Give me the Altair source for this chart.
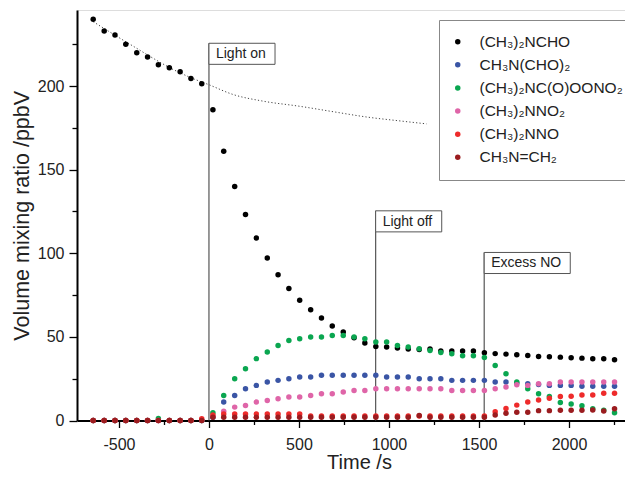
import altair as alt
import pandas as pd

# ---- data ----
series_names = ["(CH₃)₂NCHO", "CH₃N(CHO)₂", "(CH₃)₂NC(O)OONO₂",
                "(CH₃)₂NNO₂", "(CH₃)₂NNO", "CH₃N=CH₂"]
series_colors = ["#000000", "#3a55a5", "#0aa650", "#df65a8", "#ee2b2b", "#9b1c1f"]

times = [-643, -582, -522, -462, -401, -341, -281, -220, -160, -100, -40,
         22, 82, 143, 203, 263, 324, 384, 444, 504, 565, 625, 685, 746, 806,
         866, 927, 987, 1047, 1107, 1168, 1228, 1288, 1349, 1409, 1469, 1530,
         1590, 1650, 1710, 1771, 1831, 1891, 1952, 2012, 2072, 2132, 2193, 2253]

dmf = [240.0, 233.0, 230.5, 225.0, 220.0, 217.4, 212.8, 211.0, 208.6, 204.6, 201.4,
       185.8, 161.0, 140.0, 123.2, 109.2, 97.2, 87.2, 78.9, 71.9, 66.3, 61.3, 56.5,
       52.9, 49.5, 46.3, 44.3, 43.9, 43.3, 42.7, 42.5, 42.7, 41.5, 41.5, 41.5, 41.5,
       40.5, 40.0, 39.7, 39.3, 38.9, 38.3, 38.1, 37.9, 37.5, 37.3, 36.9, 36.9, 36.3]
nmf = [0, 0, 0, 0, 0, 0, 0, 0, 0, 0, 0,
       2.0, 11, 15, 19, 21, 23, 24, 25, 26, 26, 27, 27, 27, 27, 27, 27, 26, 26, 26,
       25, 25, 25, 24, 24, 24, 24, 23, 23, 22.4, 22, 21.5, 21, 21, 21, 20.5, 20.5, 20.5, 20.5]
pan = [0, 0, 0, 0, 0, 0, 1.2, 0, 0, 0, 0,
       4.6, 15, 25, 31, 37, 40.9, 44.9, 47.9, 48.9, 49.9, 49.9, 50.9, 50.9, 49.9, 48.9,
       46.9, 46.9, 44.9, 43.9, 42.9, 41.9, 40.7, 39.9, 38.7, 38.7, 37.7, 32.9, 28, 23,
       19, 16, 14.4, 10.8, 9.8, 8.8, 7.0, 6.2, 4.6]
nitramine = [0, 0, 0, 0, 0, 0, 0, 0, 0, 0, 0,
             2.5, 5.6, 8, 9, 11, 12, 13, 14, 14, 15, 16, 16, 17, 18, 18, 19, 19, 19,
             19, 19, 19, 19, 18, 18, 18, 18, 19, 20, 21.4, 21, 22, 22, 23, 23, 23, 23, 23, 23]
nitrosamine = [0, 0, 0, 0, 0, 0, 0, 0, 0, 0, 1.0,
               3.3, 3.9, 3.9, 3.9, 3.9, 3.9, 3.9, 3.9, 3.9, 2.7, 2.7, 2.7, 2.7, 2.7,
               2.7, 2.7, 2.7, 2.7, 2.7, 2.7, 2.7, 2.7, 2.7, 2.7, 2.7, 2.7,
               5.2, 7.2, 9.2, 11.1, 12.2, 13.3, 14.3, 14.5, 15.3, 15.3, 16.3, 16.3]
imine = [0, 0, 0, 0, 0, 0, 0, 0, 0, 0, 0,
         2.0, 2.0, 2.0, 2.0, 2.0, 2.0, 2.0, 2.0, 2.0, 1.9, 1.9, 1.9, 1.9, 1.9,
         1.9, 1.9, 1.9, 1.9, 1.9, 3.0, 1.9, 1.9, 1.9, 1.9, 1.9, 1.9,
         3.3, 4.3, 4.9, 4.9, 5.9, 5.9, 6.1, 6.1, 6.1, 6.3, 5.7, 7.0]

fit_t = [-643, -500, -400, -300, -200, -100, 0, 133, 300, 505, 700, 876, 1050, 1209]
fit_v = [238.5, 229, 222.5, 216, 210, 205, 200.8, 195, 191, 187.9, 184.5, 181.5, 179.3, 177.4]

ann_labels = ["Light on", "Light off", "Excess NO"]
ann_times = [0, 926, 1529]
ann_tops = [225.6, 125.4, 100.5]
ann_widths = [367, 367, 478]   # box widths in seconds
ann_height = 12.6              # box height in ppbV

x_ticks = [-500, -250, 0, 250, 500, 750, 1000, 1250, 1500, 1750, 2000, 2250]
y_ticks = [0, 25, 50, 75, 100, 125, 150, 175, 200, 225]
x_domain = [-733, 2400]
y_domain = [0, 245.5]

# ---- build tables ----
all_series = [dmf, nmf, pan, nitramine, nitrosamine, imine]
rows = []
for name, vals in zip(series_names, all_series):
    for t, v in zip(times, vals):
        rows.append({"t": t, "v": v, "s": name})
pts = pd.DataFrame(rows)
fit = pd.DataFrame({"t": fit_t, "v": fit_v})
ann = pd.DataFrame({"label": ann_labels, "t": ann_times, "top": ann_tops})
ann["right"] = [a + w for a, w in zip(ann_times, ann_widths)]
ann["bottom"] = [a - ann_height for a in ann_tops]
ann["mid"] = [a - ann_height / 2 for a in ann_tops]
ann["zero"] = 0

FONT = "Liberation Sans"
W, H = 564, 410.5
PAD_L, PAD_T = 69, 2
xs = alt.Scale(domain=x_domain, nice=False, zero=False)
ys = alt.Scale(domain=y_domain, nice=False, zero=False)
xax = alt.Axis(title="Time /s", values=x_ticks,
               tickSize={"condition": {"test": "datum.value % 500 === 0", "value": 7}, "value": 4},
               labelExpr="datum.value % 500 === 0 ? '' + datum.value : ''",
               labelOverlap=False, labelPadding=9, titlePadding=0, grid=False,
               titleFontSize=20)
yax = alt.Axis(title="Volume mixing ratio /ppbV", values=y_ticks,
               tickSize={"condition": {"test": "datum.value % 50 === 0", "value": 8}, "value": 5},
               labelExpr="datum.value % 50 === 0 ? '' + datum.value : ''",
               labelOverlap=False, labelPadding=5, titlePadding=4, grid=False,
               titleFontSize=21.5)


def X(f):
    return alt.X(f, scale=xs, axis=xax)


def Y(f):
    return alt.Y(f, scale=ys, axis=yax)


points = alt.Chart(pts).mark_circle(size=30, opacity=1).encode(
    x=X("t:Q"), y=Y("v:Q"),
    color=alt.Color("s:N", scale=alt.Scale(domain=series_names, range=series_colors),
                    legend=alt.Legend(orient="none", legendX=362, legendY=10, title=None,
                                      padding=14, rowPadding=6.1, labelFontSize=15.5,
                                      symbolSize=30, labelOffset=14, symbolOffset=-3,
                                      symbolType="circle",
                                      strokeColor="#888888", fillColor="white",
                                      labelLimit=400, labelColor="#222222")),
)

fitline = alt.Chart(fit).mark_line(color="#444444", strokeWidth=1, strokeDash=[1.2, 2.2],
                                   interpolate="monotone").encode(x=X("t:Q"), y=Y("v:Q"))

vlines = alt.Chart(ann).mark_rule(color="#555555", strokeWidth=1.2).encode(
    x=X("t:Q"), y=Y("zero:Q"), y2="top:Q")
boxes = alt.Chart(ann).mark_rect(fill="white", stroke="#555555", strokeWidth=1).encode(
    x=X("t:Q"), x2="right:Q", y=Y("top:Q"), y2="bottom:Q")
texts = alt.Chart(ann).mark_text(align="left", baseline="middle", dx=7, dy=0.5, fontSize=14,
                                 font=FONT, color="#222222").encode(
    x=X("t:Q"), y=Y("mid:Q"), text="label:N")

chart = alt.layer(fitline, vlines, points, boxes, texts).properties(
    width=W, height=H,
    padding={"left": PAD_L, "top": PAD_T, "right": 617 - PAD_L - W,
             "bottom": 465 - PAD_T - H},
    autosize=alt.AutoSizeParams(type="none")
).configure_view(stroke="black", strokeWidth=1.5).configure(font=FONT).configure_axis(
    domainColor="black", domainWidth=2, tickColor="black", tickWidth=1.3,
    labelFont=FONT, labelFontSize=16, labelColor="#222222",
    titleFont=FONT, titleFontWeight="normal", titleColor="#222222"
).configure_legend(labelFont=FONT)

chart.save("out.html", embed_options={"renderer": "svg", "actions": False})
